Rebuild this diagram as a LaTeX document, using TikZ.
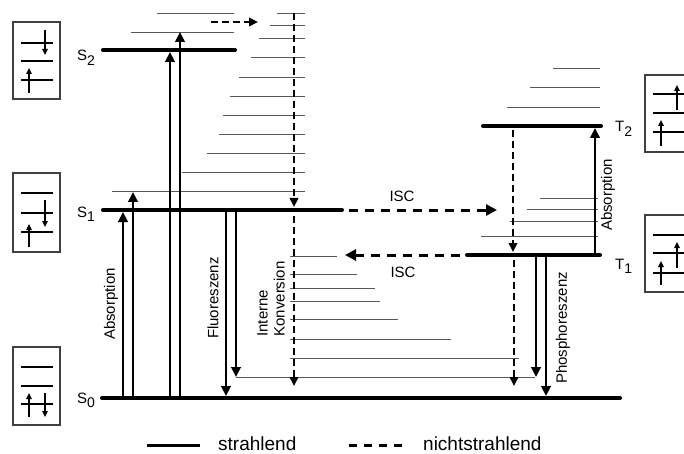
\documentclass[tikz,border=0pt]{standalone}
\usepackage{fontspec}
\setmainfont{Liberation Sans}
\usetikzlibrary{arrows.meta}
\newcommand{\niveau}[2]{#1\raisebox{-4.5pt}{\fontsize{14}{14}\selectfont #2}}
\tikzset{
  lev/.style     = {line width=4pt, line cap=round},
  vib/.style     = {draw=black!65, line width=0.9pt},
  radi/.style    = {line width=2.6pt, -{Triangle[length=10pt,width=9.5pt]}},
  nonradi/.style = {line width=2pt, dash pattern=on 7pt off 4pt,
                    -{Triangle[length=9pt,width=8.5pt]}},
  isc/.style     = {line width=3pt, dash pattern=on 9pt off 7pt,
                    -{Triangle[length=11pt,width=11pt]}},
  lab/.style     = {font=\fontsize{15}{17}\selectfont, inner sep=0pt},
  legtext/.style = {font=\fontsize{19}{21}\selectfont, anchor=base west, inner sep=0pt},
  obox/.style    = {draw=black!75, line width=1.3pt},
  orb/.style     = {line width=2pt},
  spin/.style    = {line width=2pt, -{Triangle[length=6pt,width=5.5pt]}},
}

\begin{document}
\begin{tikzpicture}[x=1pt, y=-1pt]
  \useasboundingbox (0,0) rectangle (684,454);

  % Energieniveaus
  \coordinate (s2a) at (103,50);  \coordinate (s2b) at (235,50);
  \coordinate (s1a) at (103,210); \coordinate (s1b) at (342,210);
  \coordinate (s0a) at (102,398); \coordinate (s0b) at (620,398);
  \coordinate (t2a) at (483,126); \coordinate (t2b) at (601,126);
  \coordinate (t1a) at (467,255); \coordinate (t1b) at (600,255);

  % Schwingungsniveaus
  \draw[vib] (157,13) -- (234,13)  (131,32) -- (234,32);
  \draw[vib] (277,13) -- (305,13)  (270,25) -- (305,25)  (259,38) -- (305,38)
             (251,57) -- (305,57)  (239,77) -- (305,77)  (230,96) -- (305,96)
             (223,115) -- (305,115) (219,134) -- (305,134) (207,153) -- (305,153)
             (182,172) -- (305,172) (112,191) -- (305,191);
  \draw[vib] (290,256) -- (337,256) (290,274) -- (357,274) (290,288) -- (375,288)
             (290,301) -- (380,301) (290,319) -- (398,319) (290,339) -- (451,339)
             (290,358) -- (519,358) (236,377) -- (535,377);
  \draw[vib] (540,198) -- (598,198) (527,209) -- (598,209)
             (510,221) -- (598,221) (481,236) -- (598,236);
  \draw[vib] (553,68) -- (600,68) (530,87) -- (600,87) (507,107) -- (600,107);

  \draw[lev] (s2a) -- (s2b);
  \draw[lev] (s1a) -- (s1b);
  \draw[lev] (s0a) -- (s0b);
  \draw[lev] (t2a) -- (t2b);
  \draw[lev] (t1a) -- (t1b);

  \node[lab, anchor=base west] (ls2) at (77,61)  {\niveau{S}{2}};
  \node[lab, anchor=base west] (ls1) at (77,217) {\niveau{S}{1}};
  \node[lab, anchor=base west] (ls0) at (77,403) {\niveau{S}{0}};
  \node[lab, anchor=base west] (lt2) at (615,132) {\niveau{T}{2}};
  \node[lab, anchor=base west] (lt1) at (615,269) {\niveau{T}{1}};

  % strahlende Uebergaenge
  \draw[radi, shorten >=2pt] (123,0 |- s0a) -- (123,0 |- s1a);
  \draw[radi] (133,0 |- s0a) -- (133,192);
  \draw[radi, shorten >=2pt] (170,0 |- s0a) -- (170,0 |- s2a);
  \draw[radi] (180,0 |- s0a) -- (180,32);
  \draw[radi, shorten >=2pt] (226,0 |- s1a) -- (226,0 |- s0a);
  \draw[radi] (236,0 |- s1a) -- (236,377);
  \draw[radi] (536,0 |- t1a) -- (536,377);
  \draw[radi, shorten >=2pt] (546,0 |- t1a) -- (546,0 |- s0a);
  \draw[radi, shorten >=2pt] (595,0 |- t1a) -- (595,0 |- t2a);

  % nichtstrahlende Uebergaenge
  \draw[nonradi] (211,22) -- (258,22);
  \draw[nonradi, shorten >=3pt] (294,13) -- (294,0 |- s1a);
  \draw[nonradi] (294,216) -- (294,386);
  \draw[nonradi, shorten >=3pt] (513,130) -- (513,0 |- t1a);
  \draw[nonradi] (514,260) -- (514,386);
  \draw[isc, shorten <=7pt] (s1b) -- (497,210);
  \draw[isc, shorten <=7pt] (t1a) -- (345,255);

  \node[lab, rotate=90] (abs1) at (111,304) {Absorption};
  \node[lab, rotate=90] (fluo) at (213,298) {Fluoreszenz};
  \node[lab, rotate=90, align=left] (ic) at (271,299) {Interne\\Konversion};
  \node[lab, rotate=90] (phos) at (563,328) {Phosphoreszenz};
  \node[lab, rotate=90] (abs2) at (608,195) {Absorption};
  \node[lab] (isc1) at (402,196) {ISC};
  \node[lab] (isc2) at (403,272) {ISC};

  % Orbitalschemata
  \draw[obox] (13,22) rectangle (60,99);
  \draw[orb] (21,43) -- (53,43) (21,61) -- (53,61) (21,80) -- (53,80);
  \draw[spin] (45,30) -- (45,55);
  \draw[spin] (29,93) -- (29,68);

  \draw[obox] (13,173) rectangle (60,252);
  \draw[orb] (21,193) -- (53,193) (21,213) -- (53,213) (21,232) -- (53,232);
  \draw[spin] (45,200) -- (45,227);
  \draw[spin] (29,247) -- (29,224);

  \draw[obox] (13,347) rectangle (60,425);
  \draw[orb] (21,367) -- (53,367) (21,386) -- (53,386) (21,404) -- (53,404);
  \draw[spin] (29,417) -- (29,393);
  \draw[spin] (45,393) -- (45,417);

  \draw[obox] (645,75) rectangle (712,152);
  \draw[orb] (653,94) -- (712,94) (653,113) -- (712,113) (653,132) -- (712,132);
  \draw[spin] (677,110) -- (677,85);
  \draw[spin] (661,146) -- (661,120);

  \draw[obox] (645,215) rectangle (712,292);
  \draw[orb] (653,235) -- (712,235) (653,253) -- (712,253) (653,273) -- (712,273);
  \draw[spin] (677,268) -- (677,242);
  \draw[spin] (661,285) -- (661,261);

  % Legende
  \coordinate (lga) at (147,445); \coordinate (lgb) at (200,445);
  \coordinate (lgc) at (349,445); \coordinate (lgd) at (404,445);
  \draw[line width=3pt] (lga) -- (lgb);
  \draw[line width=3pt, dash pattern=on 8pt off 7pt] (lgc) -- (lgd);
  \node[legtext] (lrad) at (218,450) {strahlend};
  \node[legtext] (lnrad) at (423,450) {nichtstrahlend};
\end{tikzpicture}
\end{document}
